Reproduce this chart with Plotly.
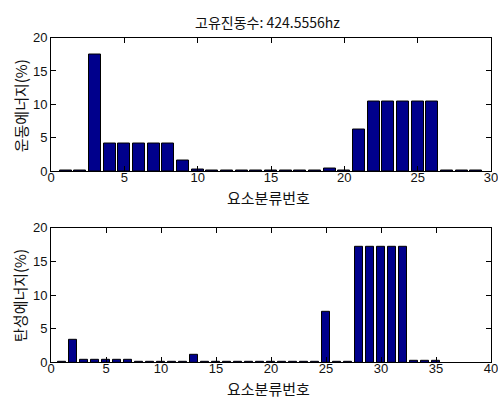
import plotly.graph_objects as go

title_text = "고유진동수: 424.5556hz"
xlabel = "요소분류번호"
ylabel_top = "운동에너지(%)"
ylabel_bot = "탄성에너지(%)"

top_x = list(range(1, 30))
top_y = [0.1, 0.1, 17.45, 4.15, 4.15, 4.15, 4.15, 4.15, 1.6, 0.25,
         0.1, 0.1, 0.1, 0.1, 0.1, 0.1, 0.1, 0.1, 0.38, 0.1,
         6.3, 10.45, 10.45, 10.45, 10.45, 10.45, 0.2, 0.2, 0.2]

bot_x = list(range(1, 36))
bot_y = [0.1, 3.35, 0.35, 0.35, 0.35, 0.35, 0.35, 0.1, 0.1, 0.1,
         0.1, 0.1, 1.1, 0.1, 0.1, 0.1, 0.1, 0.1, 0.1, 0.1,
         0.1, 0.1, 0.1, 0.1, 7.45, 0.1, 0.1, 17.15, 17.15, 17.15,
         17.15, 17.15, 0.2, 0.2, 0.2]

bar_color = "#00008C"
W, H = 498, 405
L, R = 51, 6

fig = go.Figure()
fig.add_trace(go.Bar(x=top_x, y=top_y, width=0.8, marker=dict(color=bar_color, line=dict(color="black", width=1)),
                     xaxis="x", yaxis="y", showlegend=False))
fig.add_trace(go.Bar(x=bot_x, y=bot_y, width=0.8, marker=dict(color=bar_color, line=dict(color="black", width=1)),
                     xaxis="x2", yaxis="y2", showlegend=False))

tickfont = dict(family="Liberation Sans Narrow, Arial Narrow, Liberation Sans", size=13, color="#111111")
axcommon = dict(showline=True, linecolor="black", linewidth=1, mirror="allticks", ticks="inside",
                ticklen=5, tickcolor="black", showgrid=False, zeroline=False, tickfont=tickfont,
                ticklabeloverflow="allow")

def ydom(top_px, bot_px):
    return [1 - bot_px / H, 1 - top_px / H]

fig.update_layout(
    width=W, height=H, margin=dict(l=L, r=R, t=0, b=0),
    paper_bgcolor="white", plot_bgcolor="white", bargap=0,
    xaxis=dict(domain=[0, 1], range=[0, 30], tickvals=[0, 5, 10, 15, 20, 25, 30], anchor="y",
               ticklabelstandoff=-6, **axcommon),
    yaxis=dict(domain=ydom(31.7, 170.7), range=[0, 20], tickvals=[0, 5, 10, 15, 20], anchor="x",
               ticklabelstandoff=0, **axcommon),
    xaxis2=dict(domain=[0, 1], range=[0, 40], tickvals=[0, 5, 10, 15, 20, 25, 30, 35, 40], anchor="y2",
                ticklabelstandoff=-6, **axcommon),
    yaxis2=dict(domain=ydom(229.3, 369), range=[0, 20], tickvals=[0, 5, 10, 15, 20], anchor="x2",
                ticklabelstandoff=0, **axcommon),
)

kfont = dict(family="Noto Sans CJK KR", size=15, color="#111111")
pw = W - L - R
def px_x(x):
    return (x - L) / pw
def px_y(y):
    return 1 - y / H

anns = [
    dict(text=title_text, x=px_x(268), y=px_y(16), font=dict(family="Noto Sans CJK KR", size=14, color="#111111")),
    dict(text=xlabel, x=px_x(269), y=px_y(198), font=kfont),
    dict(text=xlabel, x=px_x(269), y=px_y(396), font=kfont),
    dict(text=ylabel_top, x=px_x(20), y=px_y(103), textangle=-90, font=kfont),
    dict(text=ylabel_bot, x=px_x(20), y=px_y(300), textangle=-90, font=kfont),
]
for a in anns:
    a.update(xref="paper", yref="paper", showarrow=False, xanchor="center", yanchor="middle")
    fig.add_annotation(**a)

fig.write_html("out.html")
